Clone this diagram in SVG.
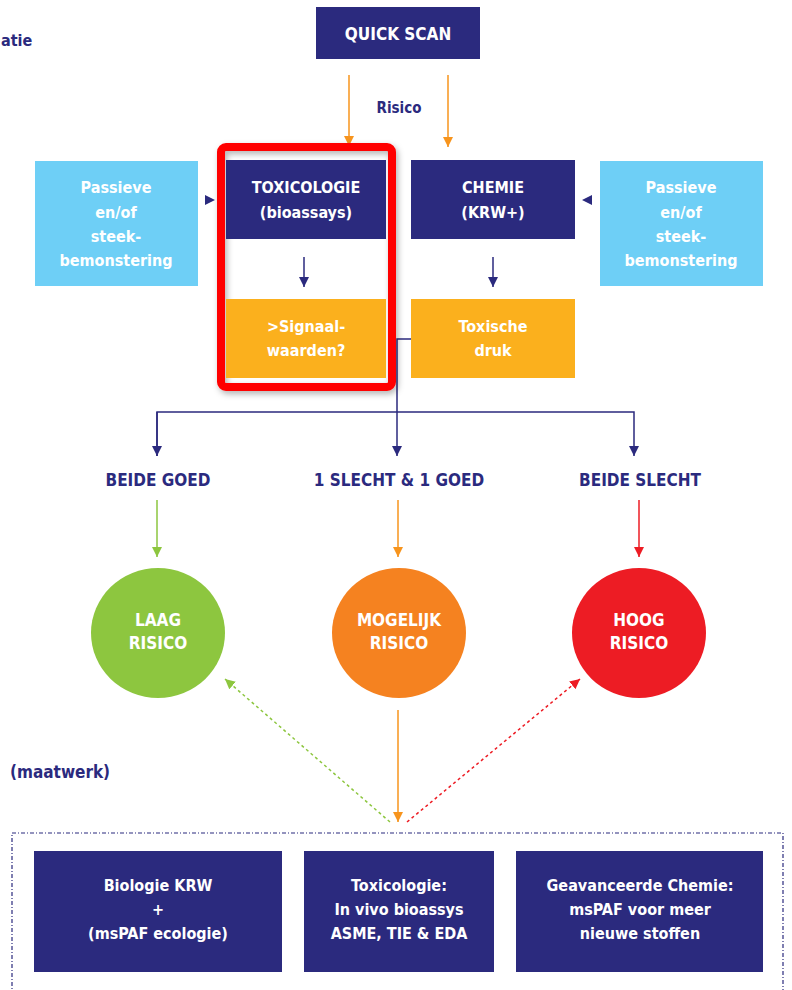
<svg xmlns="http://www.w3.org/2000/svg" width="792" height="990" viewBox="0 0 792 990">
<style>
text{font-family:"DejaVu Sans Condensed","DejaVu Sans",sans-serif;font-stretch:condensed;font-weight:bold;font-size:16px;text-anchor:middle}
.w{fill:#ffffff}
.n{fill:#2b2a7e}
.navy{fill:#2b2a7e}
.lb{fill:#6ecff6}
.yo{fill:#fbb01d}
.ln{stroke:#2b2a7e;stroke-width:1.5;fill:none}
.lo{stroke:#f7941d;stroke-width:1.5;fill:none}
.lg{stroke:#8dc63f;stroke-width:1.5;fill:none}
.lr{stroke:#ed1c24;stroke-width:1.5;fill:none}
</style>
<defs>
<marker id="an" viewBox="0 0 10 10" refX="10" refY="5" markerWidth="10" markerHeight="10" markerUnits="userSpaceOnUse" orient="auto"><path d="M0,0 L10,5 L0,10 z" fill="#2b2a7e"/></marker>
<marker id="ao" viewBox="0 0 10 10" refX="10" refY="5" markerWidth="10" markerHeight="10" markerUnits="userSpaceOnUse" orient="auto"><path d="M0,0 L10,5 L0,10 z" fill="#f7941d"/></marker>
<marker id="ag" viewBox="0 0 10 10" refX="10" refY="5" markerWidth="10" markerHeight="10" markerUnits="userSpaceOnUse" orient="auto"><path d="M0,0 L10,5 L0,10 z" fill="#8dc63f"/></marker>
<marker id="ar" viewBox="0 0 10 10" refX="10" refY="5" markerWidth="10" markerHeight="10" markerUnits="userSpaceOnUse" orient="auto"><path d="M0,0 L10,5 L0,10 z" fill="#ed1c24"/></marker>
<filter id="sh" x="-10%" y="-10%" width="130%" height="130%"><feDropShadow dx="2" dy="3" stdDeviation="3" flood-color="#000" flood-opacity="0.3"/></filter>
</defs>

<text x="1" y="46" class="n" style="text-anchor:start;font-size:16px">atie</text>
<text x="10" y="778" class="n" style="text-anchor:start;font-size:17px">(maatwerk)</text>

<g id="connectors">
<line class="lo" x1="349" y1="75" x2="349" y2="146" marker-end="url(#ao)"/>
<line class="lo" x1="448" y1="75" x2="448" y2="147" marker-end="url(#ao)"/>
<text x="399" y="113" class="n" style="font-size:15px">Risico</text>
<path d="M205,195 L215,200 L205,205 z" fill="#2b2a7e"/>
<path d="M592,195 L582,200 L592,205 z" fill="#2b2a7e"/>
<line class="ln" x1="304" y1="257" x2="304" y2="287" marker-end="url(#an)"/>
<line class="ln" x1="493" y1="257" x2="493" y2="287" marker-end="url(#an)"/>
<polyline class="ln" points="411,339 397,339 397,412"/>
<polyline class="ln" points="157,456 157,412 634,412 634,456" marker-end="url(#an)"/>
<line class="ln" x1="157" y1="412" x2="157" y2="456" marker-end="url(#an)"/>
<line class="ln" x1="397" y1="412" x2="397" y2="456" marker-end="url(#an)"/>
<line class="lg" x1="157" y1="500" x2="157" y2="557" marker-end="url(#ag)"/>
<line class="lo" x1="398" y1="500" x2="398" y2="557" marker-end="url(#ao)"/>
<line class="lr" x1="639" y1="500" x2="639" y2="557" marker-end="url(#ar)"/>
<line class="lo" x1="398" y1="710" x2="398" y2="822" marker-end="url(#ao)"/>
<line class="lg" x1="390" y1="822" x2="225" y2="679" stroke-dasharray="3,3" marker-end="url(#ag)"/>
<line class="lr" x1="407" y1="822" x2="580" y2="679" stroke-dasharray="3,3" marker-end="url(#ar)"/>
</g>

<g id="quickscan">
<rect x="316" y="7" width="164" height="52" class="navy"/>
<text x="398" y="40" class="w" style="font-size:17px">QUICK SCAN</text>
</g>

<g id="passieve-links">
<rect x="35" y="161" width="163" height="125" class="lb"/>
<text x="116" y="193" class="w">Passieve</text>
<text x="116" y="218" class="w">en/of</text>
<text x="116" y="242" class="w">steek-</text>
<text x="116" y="266" class="w">bemonstering</text>
</g>

<g id="highlight">
<rect x="221" y="147" width="171" height="240" rx="5" fill="none" stroke="#ff0000" stroke-width="8" filter="url(#sh)"/>
</g>

<g id="toxicologie">
<rect x="226" y="160" width="160" height="79" class="navy"/>
<text x="306" y="193" class="w">TOXICOLOGIE</text>
<text x="306" y="218" class="w">(bioassays)</text>
</g>

<g id="signaalwaarden">
<rect x="226" y="299" width="160" height="79" class="yo"/>
<text x="306" y="332" class="w">&gt;Signaal-</text>
<text x="306" y="356" class="w">waarden?</text>
</g>

<g id="chemie">
<rect x="411" y="160" width="164" height="79" class="navy"/>
<text x="493" y="193" class="w">CHEMIE</text>
<text x="493" y="218" class="w">(KRW+)</text>
</g>

<g id="toxische-druk">
<rect x="411" y="299" width="164" height="79" class="yo"/>
<text x="493" y="332" class="w">Toxische</text>
<text x="493" y="356" class="w">druk</text>
</g>

<g id="passieve-rechts">
<rect x="600" y="161" width="163" height="125" class="lb"/>
<text x="681" y="193" class="w">Passieve</text>
<text x="681" y="218" class="w">en/of</text>
<text x="681" y="242" class="w">steek-</text>
<text x="681" y="266" class="w">bemonstering</text>
</g>

<g id="beide-goed"><text x="158" y="486" class="n" style="font-size:17px">BEIDE GOED</text></g>
<g id="slecht-goed"><text x="399" y="486" class="n" style="font-size:17px">1 SLECHT &amp; 1 GOED</text></g>
<g id="beide-slecht"><text x="640" y="486" class="n" style="font-size:17px">BEIDE SLECHT</text></g>

<g id="laag">
<ellipse cx="158" cy="633" rx="67" ry="65" fill="#8dc63f"/>
<text x="158" y="626" class="w" style="font-size:17px">LAAG</text>
<text x="158" y="649" class="w" style="font-size:17px">RISICO</text>
</g>
<g id="mogelijk">
<ellipse cx="399" cy="633" rx="67" ry="65" fill="#f58220"/>
<text x="399" y="626" class="w" style="font-size:17px">MOGELIJK</text>
<text x="399" y="649" class="w" style="font-size:17px">RISICO</text>
</g>
<g id="hoog">
<ellipse cx="639" cy="633" rx="67" ry="65" fill="#ed1c24"/>
<text x="639" y="626" class="w" style="font-size:17px">HOOG</text>
<text x="639" y="649" class="w" style="font-size:17px">RISICO</text>
</g>

<g id="maatwerk-kader">
<path d="M12,995 L12,833 L783,833 L783,995" fill="none" stroke="#2b2a7e" stroke-width="1.2" stroke-dasharray="4,2,1,2"/>
</g>

<g id="biologie">
<rect x="34" y="851" width="248" height="121" class="navy"/>
<text x="158" y="891" class="w">Biologie KRW</text>
<text x="158" y="915" class="w">+</text>
<text x="158" y="939" class="w">(msPAF ecologie)</text>
</g>
<g id="toxicologie-vivo">
<rect x="304" y="851" width="190" height="121" class="navy"/>
<text x="399" y="891" class="w">Toxicologie:</text>
<text x="399" y="915" class="w">In vivo bioassys</text>
<text x="399" y="939" class="w">ASME, TIE &amp; EDA</text>
</g>
<g id="geavanceerde">
<rect x="516" y="851" width="247" height="121" class="navy"/>
<text x="640" y="891" class="w">Geavanceerde Chemie:</text>
<text x="640" y="915" class="w">msPAF voor meer</text>
<text x="640" y="939" class="w">nieuwe stoffen</text>
</g>
</svg>
